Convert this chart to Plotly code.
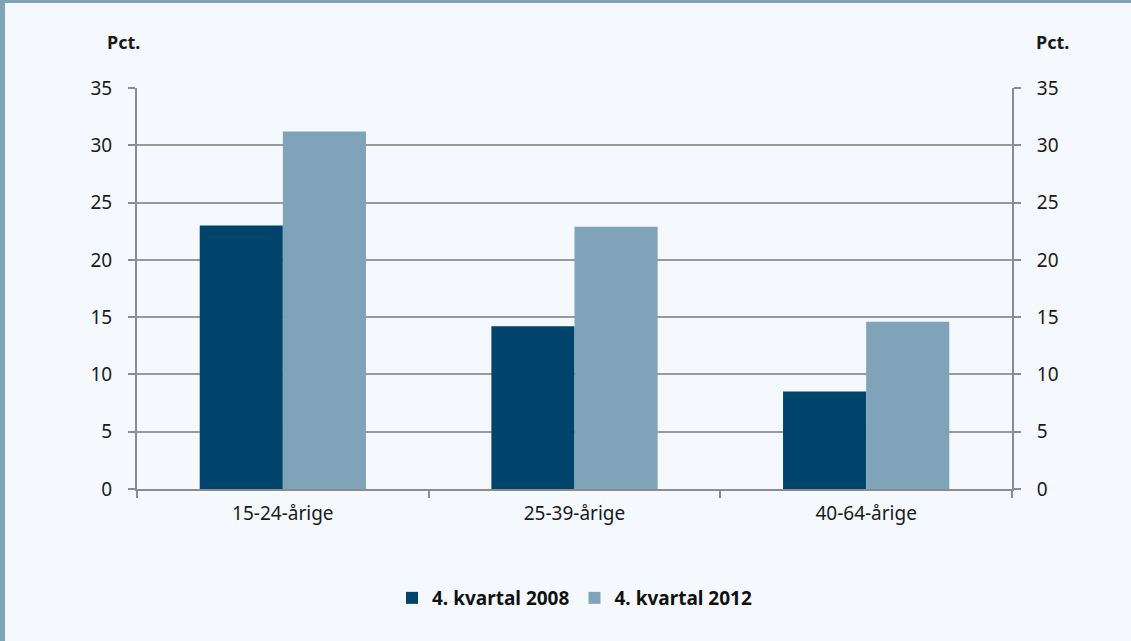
import plotly.graph_objects as go

categories = ["15-24-årige", "25-39-årige", "40-64-årige"]
series_2008 = [23.0, 14.2, 8.5]
series_2012 = [31.2, 22.9, 14.6]
series_names = ["4. kvartal 2008", "4. kvartal 2012"]
y_ticks = [0, 5, 10, 15, 20, 25, 30, 35]

W, H = 1131, 641
L, R, T, B = 137, 119, 88, 152
pw, ph = W - L - R, H - T - B

font_family = "Noto Sans, Open Sans, sans-serif"
axis_col = "#8c8c8c"
bg = "#f5f9fd"

fig = go.Figure()
fig.add_trace(go.Bar(x=categories, y=series_2008, name=series_names[0],
                     marker=dict(color="#00446b", line=dict(width=0))))
fig.add_trace(go.Bar(x=categories, y=series_2012, name=series_names[1],
                     marker=dict(color="#7fa3b8", line=dict(width=0))))
fig.add_trace(go.Scatter(x=categories, y=[0, 0, 0], yaxis="y2", mode="markers",
                         marker=dict(opacity=0), showlegend=False, hoverinfo="skip"))

def px2x(p):
    return (p - L) / pw

def px2y(p):
    return (H - B - p) / ph

fig.update_layout(
    width=W, height=H,
    margin=dict(l=L, r=R, t=T, b=B, pad=0),
    paper_bgcolor=bg, plot_bgcolor=bg,
    font=dict(family=font_family, size=19, color="#1a1a1a"),
    barmode="group", bargap=0.43, bargroupgap=0,
    xaxis=dict(type="category", showline=True, linecolor=axis_col, linewidth=2,
               ticks="outside", tickson="boundaries", ticklen=7, tickcolor=axis_col,
               tickwidth=2, showgrid=False, tickfont=dict(size=19), ticklabelstandoff=6),
    yaxis=dict(range=[0, 35], tickvals=y_ticks, showline=True, linecolor=axis_col,
               linewidth=2, ticks="outside", ticklen=7, tickcolor=axis_col, tickwidth=2,
               showgrid=True, gridcolor="#9a9a9a", gridwidth=1.5, zeroline=False,
               tickfont=dict(size=19), ticklabelstandoff=12),
    yaxis2=dict(range=[0, 35], tickvals=y_ticks, overlaying="y", side="right",
                showline=True, linecolor=axis_col, linewidth=2, ticks="outside",
                ticklen=7, tickcolor=axis_col, tickwidth=2, showgrid=False,
                zeroline=False, tickfont=dict(size=19), ticklabelstandoff=12),
    legend=dict(orientation="h", x=0.5, xanchor="center", y=px2y(598), yanchor="middle",
                font=dict(size=19, color="#111111", weight="bold"),
                itemwidth=30, bgcolor="rgba(0,0,0,0)", traceorder="normal"),
    showlegend=True,
    annotations=[
        dict(text="<b>Pct.</b>", xref="paper", yref="paper", x=px2x(105), y=px2y(42),
             xanchor="left", yanchor="middle", showarrow=False, font=dict(size=18)),
        dict(text="<b>Pct.</b>", xref="paper", yref="paper", x=px2x(1034), y=px2y(42),
             xanchor="left", yanchor="middle", showarrow=False, font=dict(size=18)),
    ],
    shapes=[
        dict(type="rect", xref="paper", yref="paper", x0=px2x(0), x1=px2x(W),
             y0=px2y(H), y1=px2y(3), line=dict(width=0), fillcolor=bg, layer="below"),
        dict(type="line", xref="paper", yref="paper", x0=px2x(0), x1=px2x(W),
             y0=px2y(1.5), y1=px2y(1.5), line=dict(color="#7fa3b8", width=3)),
        dict(type="line", xref="paper", yref="paper", x0=px2x(2.5), x1=px2x(2.5),
             y0=px2y(0), y1=px2y(H), line=dict(color="#7fa3b8", width=5)),
    ],
)

fig.write_html("out.html", config={"displayModeBar": False},
               post_script="document.body.style.margin='0';document.body.style.padding='0';"
                           "document.body.style.overflow='hidden';")
